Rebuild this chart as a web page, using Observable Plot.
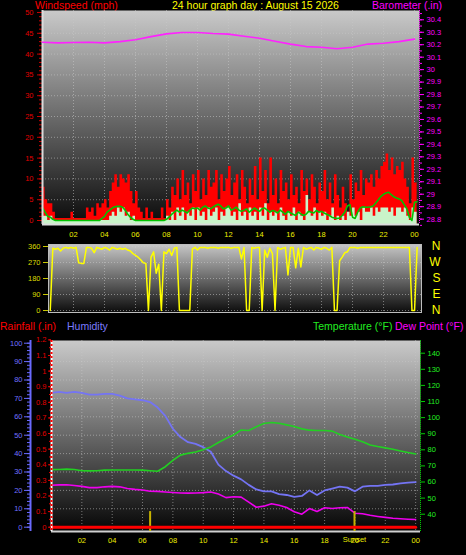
<!DOCTYPE html>
<html>
<head>
<meta charset="utf-8">
<script src="https://cdn.jsdelivr.net/npm/d3@7"></script>
<script src="https://cdn.jsdelivr.net/npm/@observablehq/plot@0.6"></script>
<style>
html,body{margin:0;padding:0;background:#000;}
#chart{position:relative;width:466px;height:555px;background:#000;overflow:hidden;font-family:"Liberation Sans",Arial,Helvetica,sans-serif;}
#chart svg{position:absolute;left:0;}
.ttl{position:absolute;font-size:10.5px;line-height:10.5px;white-space:nowrap;}
</style>
</head>
<body>
<div id="chart">
  <div class="ttl" style="left:35px;top:0px;color:#ff0000">Windspeed (mph)</div>
  <div class="ttl" style="left:172px;top:0px;color:#ffff00">24 hour graph day : August 15 2026</div>
  <div class="ttl" style="left:372px;top:0px;color:#ff00ff">Barometer (.in)</div>
  <div class="ttl" style="left:0px;top:321px;color:#ff0000">Rainfall (.in)</div>
  <div class="ttl" style="left:67px;top:321px;color:#7b7bff">Humidity</div>
  <div class="ttl" style="left:313px;top:321px;color:#22ee22">Temperature (°F)</div>
  <div class="ttl" style="left:395px;top:321px;color:#ff00ff">Dew Point (°F)</div>
</div>
<script>
// ---------- tick labels ----------
const hourTicks  = [2,4,6,8,10,12,14,16,18,20,22,24];
const hourLabels = ["02","04","06","08","10","12","14","16","18","20","22","00"];
const speedTicks = [0,5,10,15,20,25,30,35,40,45,50];
const baroTicks  = [28.8,28.9,29,29.1,29.2,29.3,29.4,29.5,29.6,29.7,29.8,29.9,30,30.1,30.2,30.3,30.4];
const dirTicks   = [0,90,180,270,360];
const compassLetters = ["N","W","S","E","N"];
const compassDeg     = [360,270,180,90,0];
const humTicks   = [0,10,20,30,40,50,60,70,80,90,100];
const rainTicks  = [0,0.1,0.2,0.3,0.4,0.5,0.6,0.7,0.8,0.9,1,1.1,1.2];
const tempTicks  = [40,50,60,70,80,90,100,110,120,130,140];
const sunEvents  = [6.5, 19.97];
const sunLabels  = ["", "Sunset"];
const sunBarTop  = [0.1];

// ---------- wind data (10-minute samples from 00:00) ----------
const gust = [
 8,5,4,4,2,0.5,
 0.5,0.5,0.5,0.5,0.5,2,
 0.5,0.5,0.5,0.5,0.5,3,
 2,3,1,4,3,4,
 5,3,7,9,11,8,
 11,10,9,11,7,4,
 7,3,2,0.5,3,0.5,
 2,0.5,0.5,0.5,3,0.5,
 5,3,8,6,10,5,
 12,6,9,4,11,7,
 12,5,10,6,12,8,
 9,12,5,11,7,10,
 13,6,9,11,5,12,
 8,4,10,6,13,5,
 15,7,12,4,15,6,
 10,4,12,7,9,5,
 11,6,8,4,12,7,
 10,5,11,8,4,9,
 7,12,5,9,4,11,
 6,3,8,4,2,11,
 5,9,7,12,6,10,
 9,11,8,12,10,13,
 14,16,12,15,11,13,
 12,14,10,8,4,15,
 9,4];
const wind = [
 1,1,0,1,0,0,
 0,0,0,0,0,0,
 0,0,0,0,0,0,
 0,0,0,0,0,0,
 0,0,1,2,1,3,
 2,3,1,2,0,1,
 0,0,0,0,0,0,
 0,0,0,0,0,0,
 1,0,2,0,3,1,
 3,0,2,1,3,0,
 3,1,2,0,3,1,
 2,3,0,2,1,3,
 3,1,2,0,4,1,
 2,0,3,1,2,0,
 3,1,4,0,2,1,
 2,0,3,1,0,2,
 1,3,0,2,1,0,
 6,2,1,3,0,2,
 1,2,0,1,3,0,
 1,0,1,0,2,1,
 3,1,2,0,3,2,
 2,3,1,3,2,3,
 3,3,2,3,1,3,
 3,2,3,1,0,3,
 2,1];
const windAvg = [
 3,2,1,0.8,0.3,0,
 0,0,0,0,0,0,
 0,0,0,0,0,0,
 0,0,0,0,0,0.5,
 1,2,2.5,3,3.3,3.4,
 3.4,3.2,2.5,1.5,0.8,0.3,
 0,0,0,0,0,0,
 0,0,0,0,0,0,
 0.3,0.8,1.5,2,2.5,2,
 2.5,2.2,1.8,2.5,3,2.8,
 3,2.5,3.2,3.5,3,2.8,
 3.2,3.6,3.9,3.5,2.8,3,
 3.5,2.5,2.8,3.2,2.5,2.2,
 2.5,2.8,2,2.5,3,2.6,
 2.2,2.8,3,2.5,2,2.4,
 2.2,1.8,2.5,2,1.5,2.2,
 1.8,1.5,1.2,2,1.6,1.2,
 1.5,2.2,2,1.8,2.4,2,
 2.2,1.8,1.5,1.2,0.8,0.6,
 0.5,0.6,1.2,2,3.5,3.8,
 0.8,0.5,2,3,3.3,3.2,
 3.2,3.3,3.5,4.2,5,5.8,
 6.3,6.6,6.8,6.2,5.7,5.4,
 5.2,4.8,3.8,2.8,0.8,0,
 4.4,4.5];
const windDir = [
 null,null,null,0,350,345,
 350,335,350,355,350,355,
 350,355,268,265,265,355,
 355,350,325,355,350,345,
 355,350,340,355,350,345,
 350,345,350,340,335,320,
 310,300,285,268,265,0,
 300,330,210,260,0,330,
 320,345,310,350,355,0,
 0,0,0,0,345,355,
 340,355,355,355,350,355,
 355,355,350,355,355,355,
 355,350,355,355,355,290,
 355,0,0,355,350,355,
 355,0,340,300,350,320,
 0,355,345,350,355,200,
 355,355,240,350,245,355,
 345,350,355,340,355,350,
 345,355,350,340,355,0,
 0,280,300,325,330,355,
 355,355,350,355,355,355,
 355,355,355,355,355,355,
 355,355,355,355,355,355,
 355,355,355,355,355,0,
 0,355];

// ---------- barometer (hourly) ----------
const baro = [30.220,30.215,30.218,30.220,30.215,30.225,30.240,30.265,30.287,30.298,30.298,30.290,30.285,
              30.268,30.252,30.228,30.205,30.185,30.180,30.168,30.180,30.205,30.212,30.225,30.245];

// ---------- half-hourly series ----------
const humidity = [73,73.5,73,73.5,73,72,72,72.5,72.5,71.5,70,69.5,69,68,65,60.5,53.5,49,46.2,45.3,43.5,41,34,30.5,
  28,26,23,20.5,19.5,19.5,18,17.5,16.5,17,20,17.5,20,21,22,21.5,19.5,22,22.5,22.5,23,23.2,23.8,24.2,24.5];
const temperature = [67.7,67.8,68,67.8,67,66.9,67,67.4,67.5,67.5,67.5,67.5,67.4,67,66.7,69.5,73.5,76.7,77.8,78.6,80,81.8,84.5,87,
  89.2,92.3,92,94.3,96.3,97,96.5,95.5,94.5,93,92.2,92,92,91.6,89.5,88,86.5,85,83,82,81.2,80.3,79.3,78.3,77.4];
const dewPoint = [58,58.2,58.3,57.8,57.3,56.5,56.5,57,57.3,57,56,55.4,55,54.3,54.2,53.8,53.5,53.2,53.1,53.2,53.4,53.8,52.5,50.3,
  50.8,50.6,47.5,44.3,45,46.5,45.5,44.2,41.5,40,43.5,41.7,44,43.5,44,44.2,40.6,40.3,39.3,38.6,38,37.5,37.2,36.9,36.7];
const rainfall = [0,0,0,0,0,0,0,0,0,0,0,0,0,0,0,0,0,0,0,0,0,0,0,0,0,0,0,0,0,0,0,0,0,0,0,0,0,0,0,0,0,0,0,0,0,0,0,0,0];

// ---------- scales ----------
const xTopDomain = [0, 24.32];
const xMidDomain = [0.387, 24.448];
const xBotDomain = [0, 24.32];
const speedDomain = [-0.96, 50.48];
const baroDomain = [28.757, 30.4746];
const dirDomain = [-11.25, 371.25];
const humDomain = [-2.34, 101.47];
const rainDomain = [-0.0275, 1.196];
const tempDomain = [29.25, 147.9];

const FONT = '"Liberation Sans", Arial, Helvetica, sans-serif';
const chart = document.getElementById("chart");
const baseStyle = {background: "transparent", fontFamily: FONT, fontSize: "7.5px", overflow: "visible"};
const t10 = (d, i) => i / 6;
const t60 = (d, i) => i;
const t30 = (d, i) => i / 2;
const fmtHour = d => hourLabels[hourTicks.indexOf(d)];
const fmtNum = d => String(d);
const gridStyle = {stroke: "#c8c8c8", strokeOpacity: 0.55, strokeDasharray: "1,2"};

function mount(svg, top, gradId, stops) {
  if (gradId) {
    const defs = document.createElementNS("http://www.w3.org/2000/svg", "defs");
    defs.innerHTML = `<linearGradient id="${gradId}" x1="0" y1="0" x2="0" y2="1">` +
      stops.map(([o, c]) => `<stop offset="${o}" stop-color="${c}"/>`).join("") + `</linearGradient>`;
    svg.insertBefore(defs, svg.firstChild);
  }
  svg.style.top = top + "px";
  chart.appendChild(svg);
}

// ================= TOP PANEL =================
const topGeom = {width: 466, height: 245, marginLeft: 42, marginRight: 47, marginTop: 10, marginBottom: 21};

const windSvg = Plot.plot({
  ...topGeom, style: baseStyle,
  x: {domain: xTopDomain},
  y: {domain: speedDomain},
  marks: [
    Plot.frame({fill: "url(#gTop)"}),
    Plot.gridY(speedTicks.slice(1), gridStyle),
    Plot.gridX(hourTicks, gridStyle),
    Plot.areaY(gust, {x: t10, y1: speedDomain[0], y2: d => d, curve: "step-after", fill: "#ff0000"}),
    Plot.areaY(wind, {x: t10, y1: speedDomain[0], y2: d => d, curve: "step-after", fill: "#c9f3c9"}),
    Plot.line(windAvg, {x: t10, y: d => d, stroke: "#00c400", strokeWidth: 1.6}),
    Plot.axisY(d3.range(0, 51), {anchor: "left", tickSize: 3, tickFormat: () => "", stroke: "#c80000", label: null}),
    Plot.axisY(speedTicks, {anchor: "left", tickSize: 5, tickPadding: 4, tickFormat: fmtNum, stroke: "#c80000", fill: "#e00000", label: null}),
    Plot.axisX(hourTicks, {anchor: "bottom", tickSize: 0, tickPadding: 7, tickFormat: fmtHour, fill: "#eeee00", label: null}),
    Plot.ruleX([xTopDomain[0]], {stroke: "#dcdcdc", strokeWidth: 2}),
    Plot.ruleY([speedDomain[0]], {stroke: "#dcdcdc", strokeWidth: 2})
  ]
});
mount(windSvg, 0, "gTop", [[0, "#c9c9c9"], [1, "#0a0a0a"]]);

const baroSvg = Plot.plot({
  ...topGeom, style: baseStyle,
  x: {domain: xTopDomain, axis: null},
  y: {domain: baroDomain},
  marks: [
    Plot.ruleX([xTopDomain[1]], {stroke: "#ff00ff", strokeDasharray: "1,1"}),
    Plot.line(baro, {x: t60, y: d => d, stroke: "#ff22ff", strokeWidth: 1.6}),
    Plot.axisY(d3.range(28.75, 30.46, 0.05), {anchor: "right", tickSize: 2, tickFormat: () => "", stroke: "#ff00ff", label: null}),
    Plot.axisY(baroTicks, {anchor: "right", tickSize: 4, tickPadding: 3, tickFormat: fmtNum, stroke: "#ff00ff", fill: "#ff00ff", label: null})
  ]
});
mount(baroSvg, 0);

// ================= MIDDLE PANEL (wind direction) =================
const dirSvg = Plot.plot({
  width: 466, height: 92, marginLeft: 48, marginRight: 45, marginTop: 18, marginBottom: 6,
  style: baseStyle,
  x: {domain: xMidDomain, axis: null},
  y: {domain: dirDomain},
  marks: [
    Plot.frame({fill: "url(#gMid)"}),
    Plot.gridY(dirTicks, gridStyle),
    Plot.gridX(hourTicks, gridStyle),
    Plot.line(windDir, {x: t10, y: d => d, stroke: "#ffff00", strokeWidth: 1.5}),
    Plot.axisY(dirTicks, {anchor: "left", tickSize: 5, tickPadding: 3, tickFormat: fmtNum, stroke: "#c8c800", fill: "#dddd00", label: null}),
    Plot.text(compassDeg, {y: d => d, text: (d, i) => compassLetters[i], frameAnchor: "right", dx: 19, fill: "#ffff00", fontSize: 12}),
    Plot.frame({stroke: "#bdbdbd"})
  ]
});
mount(dirSvg, 226, "gMid", [[0, "#c6c6c6"], [1, "#0c0c0c"]]);

// ================= BOTTOM PANEL =================
const botGeom = {width: 466, height: 225, marginLeft: 51, marginRight: 46, marginTop: 10, marginBottom: 24};

const humSvg = Plot.plot({
  ...botGeom, style: baseStyle,
  x: {domain: xBotDomain, axis: null},
  y: {domain: humDomain},
  marks: [
    Plot.frame({fill: "url(#gBot)"}),
    Plot.gridY(humTicks.slice(1), gridStyle),
    Plot.gridX(hourTicks, gridStyle),
    Plot.ruleY([humDomain[0]], {stroke: "#cfcfcf", strokeWidth: 2}),
    Plot.line(humidity, {x: t30, y: d => d, stroke: "#7474f4", strokeWidth: 1.8}),
    Plot.ruleX([xBotDomain[0]], {dx: -21, stroke: "#6a6aff", strokeWidth: 2}),
    Plot.axisY(d3.range(0, 101, 2), {anchor: "left", dx: -21, tickSize: 3, tickFormat: () => "", stroke: "#6a6aff", label: null}),
    Plot.axisY(humTicks, {anchor: "left", dx: -21, tickSize: 6, tickPadding: 2, tickFormat: fmtNum, stroke: "#6a6aff", fill: "#7070ff", label: null})
  ]
});
mount(humSvg, 330, "gBot", [[0, "#cacaca"], [1, "#050505"]]);

const tempSvg = Plot.plot({
  ...botGeom, style: baseStyle,
  x: {domain: xBotDomain},
  y: {domain: tempDomain},
  marks: [
    Plot.ruleX([xBotDomain[1]], {stroke: "#00cc00", strokeDasharray: "1,1"}),
    Plot.line(temperature, {x: t30, y: d => d, stroke: "#22d022", strokeWidth: 1.6}),
    Plot.line(dewPoint, {x: t30, y: d => d, stroke: "#ee00ee", strokeWidth: 1.6}),
    Plot.axisY(tempTicks, {anchor: "right", tickSize: 4, tickPadding: 3, tickFormat: fmtNum, stroke: "#00cc00", fill: "#22ee22", label: null}),
    Plot.axisX(hourTicks, {anchor: "bottom", tickSize: 0, tickPadding: 6.5, tickFormat: fmtHour, fill: "#eeee00", label: null}),
    Plot.text(sunEvents, {x: d => d, text: (d, i) => sunLabels[i], frameAnchor: "bottom", dy: 10.5, fill: "#e8e800", fontSize: 7.5})
  ]
});
mount(tempSvg, 330);

const rainSvg = Plot.plot({
  ...botGeom, style: baseStyle,
  x: {domain: xBotDomain, axis: null},
  y: {domain: rainDomain},
  marks: [
    Plot.ruleX(sunEvents, {x: d => d, y1: rainDomain[0], y2: sunBarTop[0], stroke: "#c8b400", strokeWidth: 2}),
    Plot.line(rainfall, {x: t30, y: d => d, stroke: "#ff0000", strokeWidth: 3}),
    Plot.ruleX([xBotDomain[0]], {stroke: "#ffffff", strokeWidth: 2}),
    Plot.ruleX([xBotDomain[0]], {stroke: "#ff0000", strokeWidth: 2, strokeDasharray: "2,2"}),
    Plot.axisY(d3.range(0, 1.21, 0.05), {anchor: "left", tickSize: 2, tickFormat: () => "", stroke: "#e00000", label: null}),
    Plot.axisY(rainTicks, {anchor: "left", tickSize: 3, tickPadding: 2, tickFormat: fmtNum, stroke: "#e00000", fill: "#e00000", label: null})
  ]
});
mount(rainSvg, 330);
</script>
</body>
</html>
